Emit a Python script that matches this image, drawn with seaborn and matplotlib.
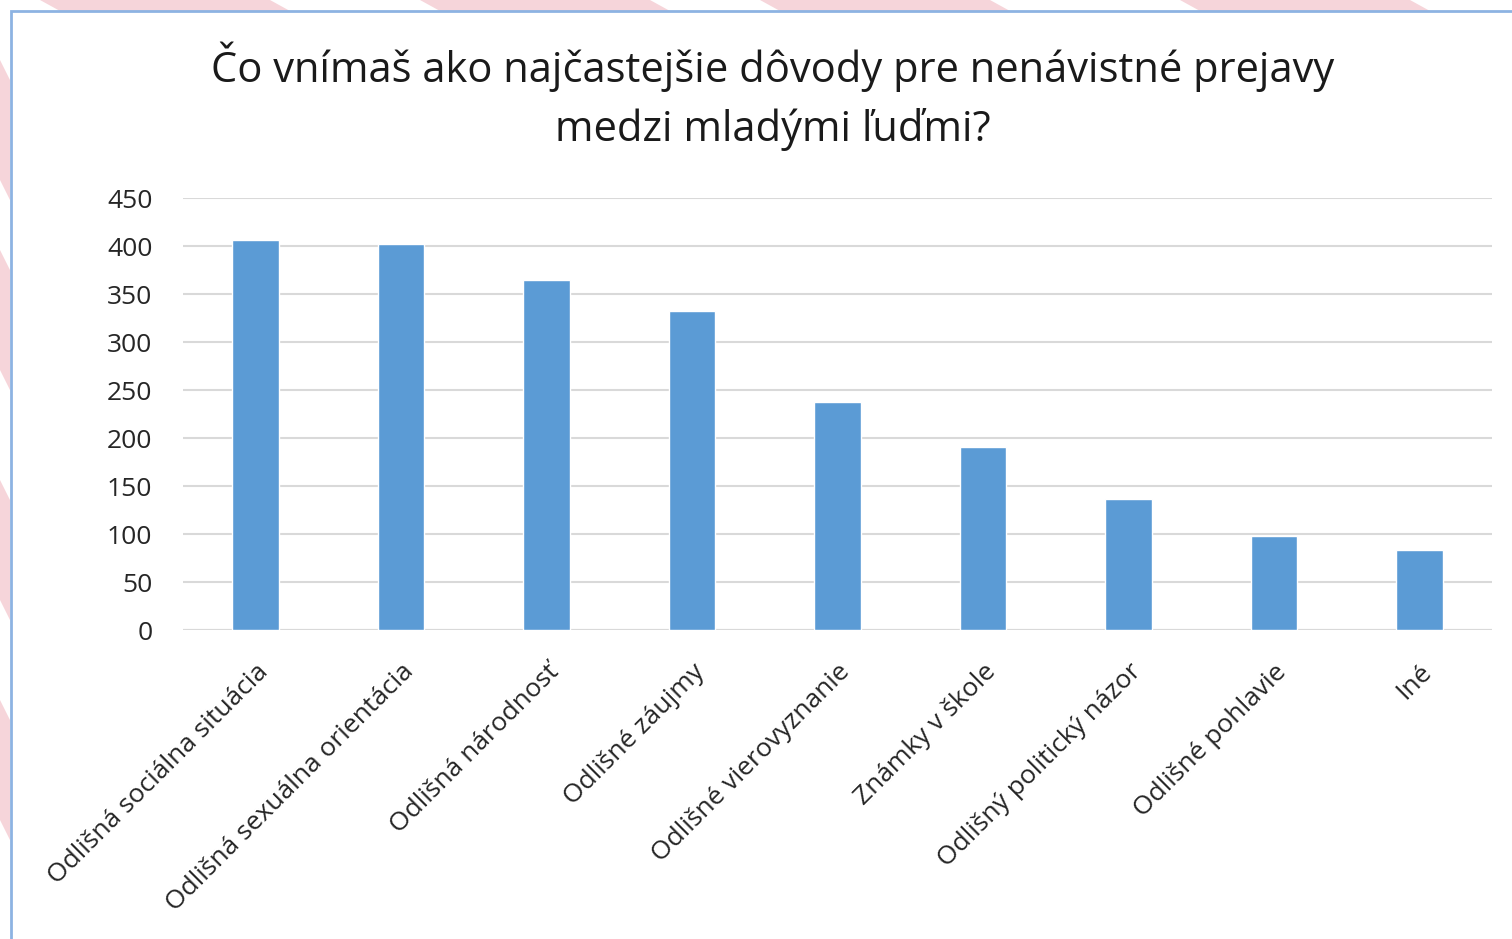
import pandas as pd
import seaborn as sns
import matplotlib.pyplot as plt
from matplotlib.patches import Rectangle, Polygon

categories = ["Odlišná sociálna situácia", "Odlišná sexuálna orientácia", "Odlišná národnosť",
              "Odlišné záujmy", "Odlišné vierovyznanie", "Známky v škole",
              "Odlišný politický názor", "Odlišné pohlavie", "Iné"]
counts = [406, 402, 365, 332, 238, 191, 137, 98, 83]
y_ticks = [0, 50, 100, 150, 200, 250, 300, 350, 400, 450]

title = "Čo vnímaš ako najčastejšie dôvody pre nenávistné prejavy\nmedzi mladými ľuďmi?"

df = pd.DataFrame({"reason": categories, "count": counts})

sns.set_theme(style="white")
plt.rcParams['font.family'] = ['Open Sans', 'DejaVu Sans']

fig = plt.figure(figsize=(15.12, 9.39), dpi=100)
ax = fig.add_axes([0.121, 0.329, 0.866, 0.460])

sns.barplot(data=df, x="reason", y="count", color="#5B9BD5", saturation=1,
            width=0.32, ax=ax, zorder=3)

ax.set_ylim(0, 450)
ax.set_xlim(-0.5, len(categories) - 0.5)
ax.set_yticks(y_ticks)
ax.yaxis.grid(True, color="#D9D9D9", linewidth=1.5, zorder=0)
ax.set_axisbelow(True)
for s in ax.spines.values():
    s.set_visible(False)
ax.axhline(0, color="#D9D9D9", linewidth=1.5, zorder=1)
ax.set_xlabel("")
ax.set_ylabel("")
ax.tick_params(axis="y", labelsize=19, colors="#262626", pad=22, length=0)
ax.tick_params(axis="x", labelsize=19, colors="#262626", pad=21, length=0)
plt.setp(ax.get_xticklabels(), rotation=45, ha="right", rotation_mode="anchor")

fig.text(0.511, 0.956, title, ha="center", va="top", fontsize=30,
         color="#1a1a1a", linespacing=1.5)

# faint pink background stripes outside the chart frame
for x0 in [40, 420, 760, 1180]:
    fig.patches.append(Polygon([(x0, 939), (x0 + 230, 939), (x0 + 250, 928), (x0 + 20, 928)],
                               closed=True, transform=None, facecolor="#F6D5DA",
                               edgecolor="none", zorder=0))
for y0 in [60, 250, 480, 700]:
    fig.patches.append(Polygon([(0, 939 - y0), (10, 939 - y0 - 20), (10, 939 - y0 - 140), (0, 939 - y0 - 120)],
                               closed=True, transform=None, facecolor="#F6D5DA",
                               edgecolor="none", zorder=0))

# chart frame
fig.patches.append(Rectangle((11 / 1512, -0.01), 1.05, 1 - 11 / 939 + 0.01,
                             transform=fig.transFigure, fill=False,
                             edgecolor="#8DB3E2", linewidth=2, zorder=1))

fig.savefig("out.png", dpi=100)
